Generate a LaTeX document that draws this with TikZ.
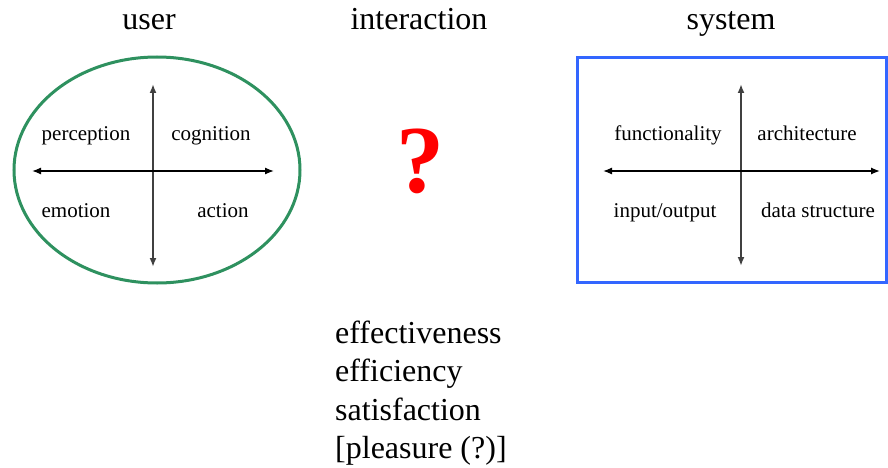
\documentclass[tikz,border=0pt]{standalone}
\usepackage{fontspec}
\setmainfont{Liberation Serif}
\usetikzlibrary{arrows.meta}

\tikzset{
  heading/.style={anchor=base,inner sep=0pt,font=\fontsize{32}{38}\selectfont},
  quadlabel/.style={anchor=base,inner sep=0pt,font=\fontsize{21}{25}\selectfont},
  axis/.style={line width=1.3pt,{Latex[length=9pt,width=7pt]}-{Latex[length=9pt,width=7pt]}},
  goal/.style={anchor=base west,inner sep=0pt,font=\fontsize{32}{38}\selectfont}
}
\definecolor{usergreen}{RGB}{46,145,95}
\definecolor{sysblue}{RGB}{51,102,255}

\begin{document}
\begin{tikzpicture}[x=1pt,y=-1pt]
			\useasboundingbox (0,0) rectangle (888,468);
			% headings
			\node[heading] (user) at (149,30) {user};
			\node[heading] (inter) at (419,30) {interaction};
			\node[heading] (system) at (731,30) {system};
			% user side
			\draw[usergreen,line width=3pt] (157,170) ellipse (143 and 113);
			\coordinate (uN) at (153,84);
			\coordinate (uS) at (153,267);
			\coordinate (uW) at (32,171);
			\coordinate (uE) at (274,171);
			\draw[axis,black!75,line width=1.8pt] (uN) -- (uS);
			\draw[axis] (uW) -- (uE);
			\node[quadlabel] (percep) at (86,140) {perception};
			\node[quadlabel] (cognit) at (211,140) {cognition};
			\node[quadlabel] (emot) at (76,217) {emotion};
			\node[quadlabel] (act) at (223,217) {action};
			% system side
			\draw[sysblue,line width=3pt] (577,58) rectangle (886,282);
			\coordinate (sN) at (741,84);
			\coordinate (sS) at (741,266);
			\coordinate (sW) at (603,171);
			\coordinate (sE) at (880,171);
			\draw[axis,black!75,line width=1.8pt] (sN) -- (sS);
			\draw[axis] (sW) -- (sE);
			\node[quadlabel] (func) at (668,140) {functionality};
			\node[quadlabel] (arch) at (807,140) {architecture};
			\node[quadlabel] (io) at (665,217) {input/output};
			\node[quadlabel] (data) at (818,217) {data structure};
			% interaction
			\node[anchor=base,inner sep=0pt,text=red,font=\fontsize{96}{100}\selectfont\bfseries] (quest) at (420,192) {?};
			\foreach \w [count=\i] in {effectiveness,efficiency,satisfaction,{[pleasure (?)]}}{
				\node[goal] (goal\i) at (335,{343+38.5*(\i-1)}) {\w};
			}
		\end{tikzpicture}
\end{document}
